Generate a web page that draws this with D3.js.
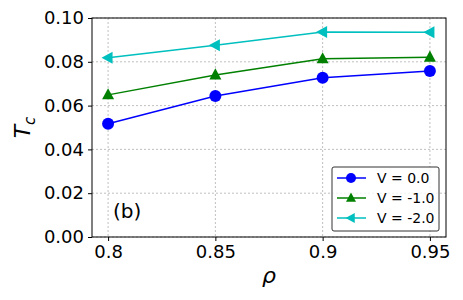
<!DOCTYPE html>
<html>
<head>
<meta charset="utf-8">
<script src="https://cdn.jsdelivr.net/npm/d3@7"></script>
<style>
  body { margin: 0; background: #fff; }
  text { font-family: "DejaVu Sans", sans-serif; }
</style>
</head>
<body>
<div id="chart"></div>
<script>
// data
const rho = [0.8, 0.85, 0.9, 0.95];
const xTicks = ["0.8", "0.85", "0.9", "0.95"];
const yTicks = [0, 0.02, 0.04, 0.06, 0.08, 0.10];
const seriesNames = ["V = 0.0", "V = -1.0", "V = -2.0"];
const v0 = [0.0517, 0.0644, 0.0727, 0.0758];
const v1 = [0.0649, 0.0740, 0.0814, 0.0821];
const v2 = [0.0818, 0.0876, 0.0936, 0.0935];

const colors = ["#0000ff", "#008000", "#00bfbf"];
const markers = ["circle", "triangle", "left"];
const series = [v0, v1, v2].map((vals, i) => ({
  name: seriesNames[i], color: colors[i], marker: markers[i],
  pts: vals.map((v, j) => [rho[j], v])
}));

const width = 463, height = 300;
const mLeft = 92, mRight = 446, mTop = 18, mBottom = 237;

const svg = d3.select("#chart").append("svg")
  .attr("width", width).attr("height", height);

const x = d3.scaleLinear().domain([0.7925, 0.9575]).range([mLeft, mRight]);
const y = d3.scaleLinear().domain([0, 0.1]).range([mBottom, mTop]);

// grid
svg.append("g").selectAll("line").data(rho).enter().append("line")
  .attr("x1", d => x(d)).attr("x2", d => x(d))
  .attr("y1", mTop).attr("y2", mBottom)
  .attr("stroke", "#b0b0b0").attr("stroke-width", 0.8).attr("stroke-dasharray", "2,2");
svg.append("g").selectAll("line").data(yTicks).enter().append("line")
  .attr("x1", mLeft).attr("x2", mRight)
  .attr("y1", d => y(d)).attr("y2", d => y(d))
  .attr("stroke", "#b0b0b0").attr("stroke-width", 0.8).attr("stroke-dasharray", "2,2");

// axes
const xAxis = d3.axisBottom(x).tickValues(rho).tickFormat((d, i) => xTicks[i])
  .tickSize(4).tickPadding(4);
const yAxis = d3.axisLeft(y).tickValues(yTicks).tickFormat(d3.format(".2f"))
  .tickSize(4).tickPadding(4);

const gx = svg.append("g").attr("transform", `translate(0,${mBottom})`).call(xAxis);
const gy = svg.append("g").attr("transform", `translate(${mLeft},0)`).call(yAxis);
[gx, gy].forEach(g => {
  g.select(".domain").remove();
  g.selectAll("text").style("font-size", "18px").attr("fill", "#000");
  g.selectAll("line").attr("stroke", "#000");
});

svg.append("rect")
  .attr("x", mLeft).attr("y", mTop)
  .attr("width", mRight - mLeft).attr("height", mBottom - mTop)
  .attr("fill", "none").attr("stroke", "#000").attr("stroke-width", 1);

// lines + markers
const line = d3.line().x(d => x(d[0])).y(d => y(d[1]));

function drawMarker(g, type, cx, cy, color, s) {
  if (type === "circle") {
    g.append("circle").attr("cx", cx).attr("cy", cy).attr("r", s).attr("fill", color);
  } else if (type === "triangle") {
    g.append("path")
      .attr("d", `M${cx},${cy - s * 1.1}L${cx + s},${cy + s * 0.75}L${cx - s},${cy + s * 0.75}Z`)
      .attr("fill", color);
  } else {
    g.append("path")
      .attr("d", `M${cx - s * 1.1},${cy}L${cx + s * 0.75},${cy - s}L${cx + s * 0.75},${cy + s}Z`)
      .attr("fill", color);
  }
}

series.forEach(s => {
  svg.append("path").datum(s.pts).attr("d", line)
    .attr("fill", "none").attr("stroke", s.color).attr("stroke-width", 1.5);
  const g = svg.append("g");
  s.pts.forEach(p => drawMarker(g, s.marker, x(p[0]), y(p[1]), s.color, 6));
});

// labels
svg.append("text").attr("x", 113).attr("y", 218)
  .style("font-size", "20px").text("(b)");

svg.append("text").attr("x", x(0.875)).attr("y", 283)
  .attr("text-anchor", "middle").style("font-size", "22px").style("font-style", "italic")
  .text("ρ");

const yl = svg.append("text")
  .attr("transform", `translate(30,${(mTop + mBottom) / 2}) rotate(-90)`)
  .attr("text-anchor", "middle").style("font-size", "22px").style("font-style", "italic");
yl.append("tspan").text("T");
yl.append("tspan").attr("dy", 5).style("font-size", "15px").text("c");

// legend
const lg = svg.append("g");
lg.append("rect").attr("x", 332).attr("y", 167).attr("width", 107).attr("height", 64)
  .attr("rx", 2).attr("fill", "#fff").attr("fill-opacity", 0.8)
  .attr("stroke", "#333").attr("stroke-width", 1);
series.forEach((s, i) => {
  const yy = 178 + i * 20;
  lg.append("line").attr("x1", 337).attr("x2", 366).attr("y1", yy).attr("y2", yy)
    .attr("stroke", s.color).attr("stroke-width", 1.5);
  drawMarker(lg, s.marker, 351, yy, s.color, 5);
  lg.append("text").attr("x", 377).attr("y", yy + 5)
    .style("font-size", "14px").text(s.name);
});
</script>
</body>
</html>
